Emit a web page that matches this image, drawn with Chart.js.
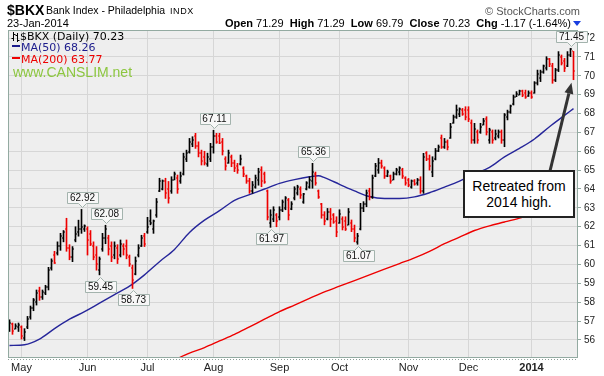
<!DOCTYPE html>
<html>
<head>
<meta charset="utf-8">
<script src="https://cdn.jsdelivr.net/npm/chart.js@4.4.1/dist/chart.umd.min.js"></script>
<style>
  body { margin: 0; background: #fff; }
  #wrap { position: relative; width: 604px; height: 376px; overflow: hidden; font-family: "Liberation Sans", Arial, sans-serif; color: #000; }
  #chart { position: absolute; left: 0; top: 0; }
  .t { position: absolute; white-space: pre; line-height: 1; }
  .lg { font-family: "DejaVu Sans", Verdana, sans-serif; font-size: 11px; }
  #note { position: absolute; left: 463px; top: 170px; width: 112px; height: 48px; box-sizing: border-box;
          border: 2px solid #222; background: #fff; text-align: center; font-size: 14px; line-height: 15.5px; padding-top: 7px; }
</style>
</head>
<body>
<div id="wrap">
  <canvas id="chart" width="604" height="376"></canvas>

  <div class="t" style="left:7px;top:3px;font-size:14px;font-weight:bold">$BKX</div>
  <div class="t" style="left:46px;top:4.6px;font-size:10.5px">Bank Index - Philadelphia</div>
  <div class="t" style="left:170px;top:6.5px;font-size:9px;letter-spacing:0.6px">INDX</div>
  <div class="t" style="left:7px;top:18px;font-size:11px">23-Jan-2014</div>
  <div class="t" style="right:33px;top:18px;font-size:11px"><b>Open</b> 71.29  <b>High</b> 71.29  <b>Low</b> 69.79  <b>Close</b> 70.23  <b>Chg</b> -1.17 (-1.64%)</div>
  <div style="position:absolute;left:573px;top:21px;width:0;height:0;border-left:4px solid transparent;border-right:4px solid transparent;border-top:5px solid #1a3fe0"></div>
  <div class="t" style="right:24px;top:6px;font-size:11px;color:#555">© StockCharts.com</div>

  <svg style="position:absolute;left:11px;top:32px" width="9" height="10">
    <path d="M2.5 0V9M0.5 6.5H2.5M2.5 2.5H4.5M6.5 1V10M4.5 3.5H6.5M6.5 8.5H8.5" stroke="#000" stroke-width="1" fill="none"/>
  </svg>
  <div class="t lg" style="left:20px;top:30.5px">$BKX (Daily) 70.23</div>
  <div style="position:absolute;left:12px;top:45px;width:8px;height:2px;background:#1c1c8c"></div>
  <div class="t lg" style="left:21px;top:42px;color:#1c1c8c">MA(50) 68.26</div>
  <div style="position:absolute;left:12px;top:57px;width:8px;height:2px;background:#ee0000"></div>
  <div class="t lg" style="left:21px;top:54px;color:#ee0000">MA(200) 63.77</div>
  <div class="t" style="left:13px;top:65px;font-size:14px;color:#8cc63f">www.CANSLIM.net</div>

  <div id="note">Retreated from<br>2014 high.</div>
</div>

<script>
// trading days shown on the chart
const dates = [
  '2013-04-25','2013-04-26','2013-04-29','2013-04-30',
  '2013-05-01','2013-05-02','2013-05-03','2013-05-06','2013-05-07','2013-05-08','2013-05-09','2013-05-10','2013-05-13','2013-05-14','2013-05-15',
  '2013-05-16','2013-05-17','2013-05-20','2013-05-21','2013-05-22','2013-05-23','2013-05-24','2013-05-28','2013-05-29','2013-05-30','2013-05-31',
  '2013-06-03','2013-06-04','2013-06-05','2013-06-06','2013-06-07','2013-06-10','2013-06-11','2013-06-12','2013-06-13','2013-06-14',
  '2013-06-17','2013-06-18','2013-06-19','2013-06-20','2013-06-21','2013-06-24','2013-06-25','2013-06-26','2013-06-27','2013-06-28',
  '2013-07-01','2013-07-02','2013-07-03','2013-07-05','2013-07-08','2013-07-09','2013-07-10','2013-07-11','2013-07-12','2013-07-15','2013-07-16',
  '2013-07-17','2013-07-18','2013-07-19','2013-07-22','2013-07-23','2013-07-24','2013-07-25','2013-07-26','2013-07-29','2013-07-30','2013-07-31',
  '2013-08-01','2013-08-02','2013-08-05','2013-08-06','2013-08-07','2013-08-08','2013-08-09','2013-08-12','2013-08-13','2013-08-14','2013-08-15',
  '2013-08-16','2013-08-19','2013-08-20','2013-08-21','2013-08-22','2013-08-23','2013-08-26','2013-08-27','2013-08-28','2013-08-29','2013-08-30',
  '2013-09-03','2013-09-04','2013-09-05','2013-09-06','2013-09-09','2013-09-10','2013-09-11','2013-09-12','2013-09-13','2013-09-16',
  '2013-09-17','2013-09-18','2013-09-19','2013-09-20','2013-09-23','2013-09-24','2013-09-25','2013-09-26','2013-09-27','2013-09-30',
  '2013-10-01','2013-10-02','2013-10-03','2013-10-04','2013-10-07','2013-10-08','2013-10-09','2013-10-10','2013-10-11','2013-10-14','2013-10-15','2013-10-16',
  '2013-10-17','2013-10-18','2013-10-21','2013-10-22','2013-10-23','2013-10-24','2013-10-25','2013-10-28','2013-10-29','2013-10-30','2013-10-31',
  '2013-11-01','2013-11-04','2013-11-05','2013-11-06','2013-11-07','2013-11-08','2013-11-11','2013-11-12','2013-11-13','2013-11-14',
  '2013-11-15','2013-11-18','2013-11-19','2013-11-20','2013-11-21','2013-11-22','2013-11-25','2013-11-26','2013-11-27','2013-11-29',
  '2013-12-02','2013-12-03','2013-12-04','2013-12-05','2013-12-06','2013-12-09','2013-12-10','2013-12-11','2013-12-12','2013-12-13','2013-12-16',
  '2013-12-17','2013-12-18','2013-12-19','2013-12-20','2013-12-23','2013-12-24','2013-12-26','2013-12-27','2013-12-30','2013-12-31',
  '2014-01-02','2014-01-03','2014-01-06','2014-01-07','2014-01-08','2014-01-09','2014-01-10','2014-01-13','2014-01-14','2014-01-15',
  '2014-01-16','2014-01-17','2014-01-21','2014-01-22','2014-01-23'
];

const opens = [
  56.6,56.85,56.6,56.7, 56.7,56.1,56.7,57.2,57.7,58.0,58.6,58.3,58.5,58.8,59.8,60.5,60.6,61.0,61.4,61.9,60.9,60.4,61.3,61.7,61.9,61.9,
  61.9,61.6,61.0,60.5,59.7,60.8,61.4,61.4,61.0,60.5,60.9,60.5,61.0,61.0,60.4,59.8,59.5,60.5,61.0,61.5,
  61.7,62.3,61.9,62.6,63.9,64.0,64.4,64.0,63.9,64.5,64.6,64.4,64.8,65.6,65.95,66.4,66.8,66.3,65.9,65.7,65.3,65.6,
  66.2,66.8,66.8,66.5,65.6,65.4,65.7,65.4,65.2,65.3,65.1,64.7,64.4,63.9,64.1,64.5,65.0,64.8,63.9,62.2,62.4,62.6,
  62.5,62.9,63.0,63.4,62.95,63.5,63.8,64.0,63.3,64.0,64.1,64.4,64.8,63.9,63.2,62.6,62.4,62.8,62.6,62.3,
  62.2,62.4,62.3,62.1,62.2,61.9,61.2,61.9,63.0,63.2,63.9,63.6,64.7,65.0,65.4,65.1,64.7,64.7,64.5,64.8,64.9,65.0,64.6,
  64.5,64.1,64.4,64.3,64.5,63.9,65.9,65.6,64.9,65.6,66.0,66.7,66.2,66.5,66.7,67.5,67.8,68.0,68.2,68.2,
  68.2,67.5,66.6,67.0,67.0,67.4,67.7,66.6,67.0,66.7,66.8,67.0,66.6,67.8,68.1,68.5,68.9,69.0,69.2,69.1,68.95,
  69.1,69.1,69.6,69.9,70.2,70.4,70.9,70.5,69.8,70.3,71.0,70.8,70.5,71.1,71.29
];
const highs = [
  57.07,56.9,56.86,56.9, 56.75,56.6,57.25,57.8,58.2,58.65,58.8,58.65,58.9,59.85,60.3,60.7,61.2,61.65,61.8,62.45,61.05,60.95,62.0,62.35,62.92,62.1,
  62.0,61.8,61.2,60.95,60.4,61.65,62.08,61.55,61.2,61.2,61.05,61.3,61.1,61.3,60.5,59.97,60.4,61.05,61.55,61.65,
  62.5,62.9,62.36,63.5,64.57,64.48,64.57,64.4,64.65,64.9,64.74,64.9,65.9,66.06,66.68,66.77,66.95,66.5,66.06,66.0,65.9,66.42,
  67.11,66.95,66.95,66.68,65.71,66.06,65.8,65.53,65.36,65.8,65.18,64.74,64.57,64.4,64.74,65.1,65.18,64.9,63.95,62.9,63.06,62.7,
  63.06,63.42,63.6,63.5,63.33,64.12,64.2,64.12,63.77,64.39,64.65,65.36,64.9,63.95,63.24,62.8,62.97,62.97,62.7,62.53,
  62.9,62.53,62.53,62.97,62.36,62.09,61.65,63.24,63.33,63.95,64.04,64.74,65.36,65.62,65.53,65.18,65.0,64.74,64.9,65.1,65.18,65.1,64.65,
  64.56,64.48,64.5,64.56,64.65,65.89,65.98,65.8,65.71,66.15,66.33,66.86,66.68,66.6,67.48,67.92,68.45,68.3,68.27,68.36,
  68.36,67.66,67.48,67.13,67.48,67.74,67.83,67.22,67.13,67.13,67.13,67.13,68.0,68.18,68.45,68.98,69.16,69.24,69.24,69.24,69.2,
  69.2,69.69,70.3,70.3,70.57,71.01,70.92,70.66,70.39,71.28,71.1,70.92,71.28,71.45,71.29
];
const lows = [
  56.45,56.3,56.58,56.45, 56.05,55.97,56.6,57.1,57.55,57.85,58.1,58.15,58.4,58.65,59.7,60.05,60.5,60.75,61.2,60.7,60.25,60.15,61.2,61.5,61.65,61.75,
  60.5,61.0,60.25,59.7,59.45,60.7,61.1,60.5,60.15,60.3,60.05,60.4,60.5,60.3,59.9,58.73,59.45,60.4,60.95,60.95,
  61.65,62.1,61.65,62.5,63.86,63.95,63.5,63.25,63.77,64.48,63.77,64.3,64.74,65.45,65.9,66.24,66.15,65.7,65.27,65.27,65.2,65.45,
  65.9,66.42,66.4,65.8,65.0,65.36,65.18,64.92,64.83,65.27,64.65,64.3,63.77,63.77,64.04,64.2,64.12,64.3,62.36,61.97,62.27,62.0,
  62.36,62.8,62.9,62.36,62.9,63.42,63.68,63.5,63.24,63.95,64.04,64.04,64.2,63.5,62.45,62.1,62.36,62.0,62.18,61.47,
  62.18,61.83,61.8,62.09,61.74,61.2,61.07,61.83,62.8,63.06,63.42,63.5,64.65,64.83,65.1,64.56,64.65,64.3,64.48,64.74,64.74,64.56,64.2,
  64.12,64.04,64.2,64.2,63.77,63.77,65.5,65.0,64.65,65.54,65.98,66.15,66.15,66.07,66.68,67.48,67.74,67.83,67.9,67.66,
  67.57,66.42,66.42,66.42,66.95,67.39,66.86,66.42,66.42,66.6,66.7,66.42,66.24,67.66,68.01,68.45,68.89,68.98,68.89,68.8,68.9,
  68.8,69.07,69.51,69.69,70.13,70.3,70.48,69.6,69.69,70.22,70.57,70.22,70.48,71.01,69.79
];
const closes = [
  56.9,56.5,56.75,56.8, 56.2,56.45,57.1,57.7,58.1,58.5,58.3,58.55,58.8,59.7,60.2,60.1,61.0,61.5,61.7,60.9,60.4,60.8,61.6,61.9,62.0,62.05,
  61.3,61.1,60.4,60.0,60.3,61.4,61.9,60.8,60.4,61.0,60.3,61.1,60.8,60.5,60.0,59.2,60.2,60.9,61.4,61.1,
  62.0,62.2,62.3,63.3,64.4,64.45,63.8,63.5,64.5,64.8,64.0,64.7,65.7,65.9,66.5,66.6,66.3,65.9,65.5,65.4,65.7,66.2,
  66.8,66.5,66.45,66.0,65.2,65.9,65.4,65.1,65.0,65.6,64.8,64.4,63.9,64.2,64.6,64.9,64.4,64.35,62.5,62.6,62.9,62.3,
  62.9,63.3,63.5,62.6,63.2,64.0,64.1,63.7,63.75,64.3,64.5,64.9,64.3,63.6,62.6,62.3,62.8,62.4,62.25,61.7,
  62.7,62.0,61.9,62.8,61.9,61.4,61.5,63.0,63.2,63.8,63.6,64.6,65.2,65.4,65.2,64.7,64.9,64.4,64.8,65.0,65.1,64.7,64.3,
  64.2,64.4,64.25,64.5,63.9,65.7,65.6,65.2,65.5,66.0,66.25,66.2,66.5,66.2,67.3,67.8,68.2,68.25,68.0,67.8,
  67.7,66.6,67.2,66.6,67.3,67.6,67.0,67.1,66.6,66.9,67.0,66.6,67.9,68.1,68.4,68.9,69.05,69.2,69.0,68.9,69.1,
  68.9,69.6,70.1,70.2,70.5,70.9,70.6,69.8,70.3,71.1,70.7,70.4,71.1,71.40,70.23
];

// moving averages read at sampled days (index into dates)
const ma50Days = [0,5,10,15,20,25,30,35,40,45,50,55,60,65,70,75,80,85,90,95,100,103,105,110,115,120,125,130,135,140,145,150,155,160,165,170,175,180,185,188];
const ma50 = [55.71,55.75,56.05,56.6,57.1,57.5,57.95,58.4,58.85,59.45,60.15,60.8,61.7,62.35,62.85,63.4,63.7,64.0,64.3,64.5,
              64.65,64.7,64.6,64.25,63.9,63.6,63.5,63.5,63.58,63.8,64.1,64.42,64.8,65.15,65.7,66.15,66.65,67.3,67.9,68.26];
const ma200Days = [50,55,60,65,70,75,80,85,90,95,100,105,110,115,120,125,130,135,140,145,150,155,160,165,170,175,180,185,188];
const ma200 = [54.6,54.95,55.3,55.6,55.95,56.3,56.7,57.1,57.5,57.85,58.2,58.55,58.85,59.15,59.45,59.75,60.05,60.35,60.7,61.1,
               61.45,61.8,62.05,62.25,62.46,62.7,63.0,63.4,63.77];

// labelled highs and lows
const calloutDays = [24,30,32,41,68,87,101,116,187];
const calloutSide = ['high','low','high','low','high','low','high','low','high'];

const yTicks = [56,57,58,59,60,61,62,63,64,65,66,67,68,69,70,71,72];
const monthNames = ['Jan','Feb','Mar','Apr','May','Jun','Jul','Aug','Sep','Oct','Nov','Dec'];

const RED = '#ee0000';
const lastDay = dates.length - 1;

// one empty slot on the right keeps a little room before the axis
const slots = dates.concat(['']);
const monthStarts = dates.map((d, i) => i > 0 && d.slice(0, 7) !== dates[i - 1].slice(0, 7) ? i : -1).filter(i => i >= 0);
const barColors = closes.map((c, i) => (i > 0 && c < closes[i - 1]) ? RED : '#000');

function monthLabel(d) {
    const m = parseInt(d.slice(5, 7), 10);
    return m === 1 ? d.slice(0, 4) : monthNames[m - 1];
}

const framePlugin = {
    id: 'frame',
    beforeDraw(chart) {
        const a = chart.chartArea, ctx = chart.ctx;
        ctx.save();
        ctx.fillStyle = '#eeeeee';
        ctx.fillRect(a.left, a.top, a.right - a.left, a.bottom - a.top);
        ctx.restore();
    },
    afterDraw(chart) {
        const a = chart.chartArea, ctx = chart.ctx;
        ctx.save();
        ctx.strokeStyle = '#93aaa1';
        ctx.lineWidth = 1;
        ctx.strokeRect(a.left + 0.5, a.top + 0.5, a.right - a.left - 1, a.bottom - a.top - 1);
        ctx.setLineDash([1, 2]);
        ctx.strokeStyle = '#8c9c96';
        ctx.beginPath();
        ctx.moveTo(a.left, a.bottom + 1.5);
        ctx.lineTo(a.right, a.bottom + 1.5);
        ctx.stroke();
        ctx.restore();
    }
};

// open tick on the left, close tick on the right of each bar
const ohlcTicks = {
    id: 'ohlcTicks',
    afterDatasetsDraw(chart) {
        const { ctx, scales: { x, y } } = chart;
        ctx.save();
        closes.forEach((c, i) => {
            const px = Math.floor(x.getPixelForValue(i));
            ctx.fillStyle = barColors[i];
            ctx.fillRect(px - 1, Math.round(y.getPixelForValue(opens[i])) - 0.5, 1, 1);
            ctx.fillRect(px + 1, Math.round(y.getPixelForValue(c)) - 0.5, 1, 1);
        });
        ctx.restore();
    }
};

const callouts = {
    id: 'callouts',
    afterDraw(chart) {
        const { ctx, scales: { x, y } } = chart;
        ctx.save();
        ctx.font = '10px "Liberation Sans", Arial, sans-serif';
        ctx.textAlign = 'center';
        ctx.textBaseline = 'middle';
        ctx.lineWidth = 1;
        calloutDays.forEach((d, k) => {
            const high = calloutSide[k] === 'high';
            const v = high ? highs[d] : lows[d];
            const txt = v.toFixed(2);
            const px = Math.round(x.getPixelForValue(d)) + 0.5;
            const py = Math.round(y.getPixelForValue(v)) + 0.5;
            const w = Math.ceil(ctx.measureText(txt).width) + 5;
            const h = 11;
            const tip = high ? py - 2 : py + 2;
            const edge = high ? tip - 4 : tip + 4;
            const far = high ? edge - h : edge + h;
            const left = Math.round(px - w / 2) + 0.5;
            ctx.beginPath();
            ctx.moveTo(left, far);
            ctx.lineTo(left + w, far);
            ctx.lineTo(left + w, edge);
            ctx.lineTo(px + 4, edge);
            ctx.lineTo(px, tip);
            ctx.lineTo(px - 4, edge);
            ctx.lineTo(left, edge);
            ctx.closePath();
            ctx.fillStyle = '#f7f7f7';
            ctx.fill();
            ctx.strokeStyle = '#a3b3ad';
            ctx.stroke();
            ctx.fillStyle = '#111';
            ctx.fillText(txt, px, (far + edge) / 2 + 0.5);
        });

        // arrow from the note box to the last bar
        const tx = x.getPixelForValue(lastDay) - 2;
        const ty = y.getPixelForValue(lows[lastDay]) + 3;
        const bx = 550, by = 171;
        const ang = Math.atan2(ty - by, tx - bx);
        const hl = 11, hw = 4.5;
        const hx = tx - hl * Math.cos(ang), hy = ty - hl * Math.sin(ang);
        ctx.strokeStyle = '#333';
        ctx.lineWidth = 3;
        ctx.beginPath();
        ctx.moveTo(bx, by);
        ctx.lineTo(hx, hy);
        ctx.stroke();
        ctx.fillStyle = '#333';
        ctx.beginPath();
        ctx.moveTo(tx, ty);
        ctx.lineTo(hx + hw * Math.sin(ang), hy - hw * Math.cos(ang));
        ctx.lineTo(hx - hw * Math.sin(ang), hy + hw * Math.cos(ang));
        ctx.closePath();
        ctx.fill();
        ctx.restore();
    }
};

new Chart(document.getElementById('chart'), {
    type: 'bar',
    data: {
        labels: slots,
        datasets: [{
            type: 'bar',
            data: highs.map((h, i) => [lows[i], h]),
            backgroundColor: barColors,
            barThickness: 1,
            borderWidth: 0
        }, {
            type: 'line',
            data: ma50Days.map((d, k) => ({ x: dates[d], y: ma50[k] })),
            borderColor: '#26269a',
            borderWidth: 1.4,
            pointRadius: 0,
            cubicInterpolationMode: 'monotone'
        }, {
            type: 'line',
            data: ma200Days.map((d, k) => ({ x: dates[d], y: ma200[k] })),
            borderColor: RED,
            borderWidth: 1.4,
            pointRadius: 0,
            cubicInterpolationMode: 'monotone'
        }]
    },
    options: {
        responsive: false,
        animation: false,
        devicePixelRatio: 1,
        layout: { padding: { top: 30, left: 8, right: 0, bottom: 0 } },
        plugins: { legend: { display: false }, tooltip: { enabled: false } },
        scales: {
            x: {
                type: 'category',
                offset: true,
                grid: { offset: false, color: '#d6d6d6', drawTicks: false },
                border: { display: false },
                ticks: {
                    autoSkip: false,
                    maxRotation: 0,
                    padding: 3,
                    color: '#222',
                    font: ctx => ({ family: '"Liberation Sans", Arial, sans-serif', size: 11,
                                    weight: ctx.tick && ctx.tick.label === '2014' ? 'bold' : 'normal' }),
                    callback: v => monthLabel(slots[v])
                },
                afterBuildTicks: scale => { scale.ticks = [4].concat(monthStarts.filter(i => i > 4)).map(i => ({ value: i })); },
                afterFit: scale => { scale.height = 18; }
            },
            y: {
                position: 'right',
                min: 55.046,
                max: 72.424,
                grid: { color: '#d6d6d6', tickLength: 3, tickColor: '#93aaa1' },
                border: { display: false },
                ticks: { padding: 3, color: '#222', font: { family: '"Liberation Sans", Arial, sans-serif', size: 10 } },
                afterBuildTicks: scale => { scale.ticks = yTicks.map(v => ({ value: v })); },
                afterFit: scale => { scale.width = 26; }
            }
        }
    },
    plugins: [framePlugin, ohlcTicks, callouts]
});
</script>
</body>
</html>
